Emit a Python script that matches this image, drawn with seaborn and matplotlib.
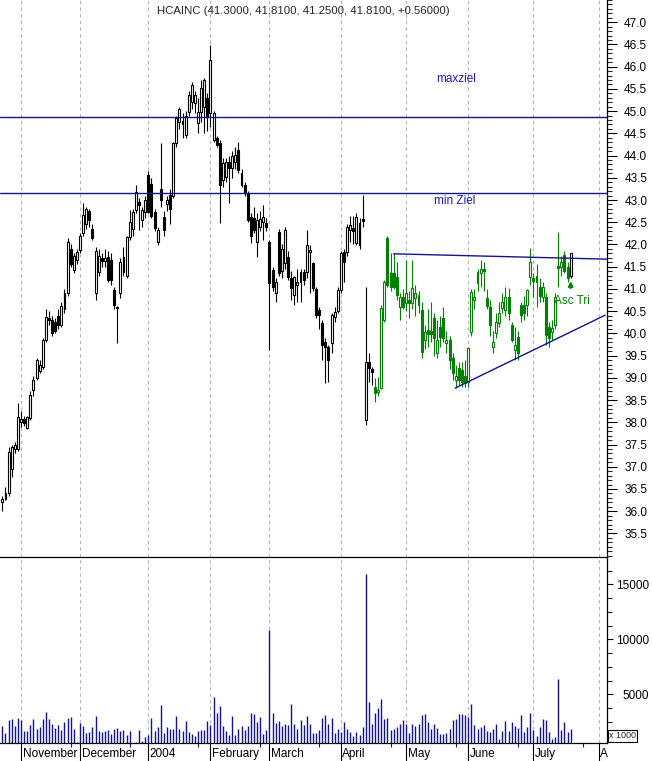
import numpy as np
import pandas as pd
import matplotlib
matplotlib.use('Agg')
import matplotlib.pyplot as plt
from matplotlib.transforms import blended_transform_factory
from matplotlib.ticker import MultipleLocator, FixedLocator
import seaborn as sns

# ---- daily candles (Oct 24 2003 .. Jul 20 2004) ----
opens = [
    36.20, 36.28, 36.42, 36.95, 37.40, 37.40,
    38.00, 38.08, 37.88, 38.10, 38.73, 39.00, 39.15, 39.25, 39.85, 40.35, 40.30, 40.25, 40.40, 40.20,
    40.90, 40.90, 41.90, 41.42, 41.65,
    41.87, 42.26, 42.45, 42.75, 42.35, 40.90, 41.38, 41.70, 41.62, 41.72, 41.65, 40.98, 40.60, 40.90,
    41.72, 41.30, 42.16, 42.35, 42.77, 42.95, 42.55, 42.73,
    43.56, 43.35, 42.73, 42.05, 43.25, 42.62, 42.90, 43.11, 43.10, 44.28, 44.75, 44.78, 44.46, 44.98,
    45.20, 45.18, 44.73, 44.98, 45.10, 45.30,
    44.95, 44.35, 44.40, 44.28, 43.45, 43.52, 43.85, 43.72, 43.85, 44.12, 43.60, 43.34, 43.16, 42.62,
    42.60, 42.05, 42.40, 42.50, 42.48,
    42.05, 41.43, 40.90, 42.28, 41.40, 41.58, 41.72, 41.24, 40.86, 41.10, 41.38, 41.38, 41.38, 41.83,
    41.58, 41.00, 40.52, 40.23, 39.80, 39.69, 39.78, 40.37, 40.50,
    40.98, 41.83, 41.83, 42.33, 42.38, 42.03, 41.99, 42.58, 38.05, 39.35, 39.20, 38.80, 38.68, 38.78,
    40.30, 42.15, 41.36, 41.35, 41.27, 40.60, 40.82,
    40.68, 40.75, 40.68, 40.80, 40.64, 40.52, 39.85, 40.07, 40.05, 40.34, 39.56, 40.14, 40.34, 39.78,
    39.85, 39.45, 38.95, 39.22, 39.18, 39.05,
    38.90, 40.03, 40.75, 41.13, 41.35, 41.45, 40.80, 40.60, 39.69, 40.00, 40.23, 40.57, 40.52, 40.82,
    40.20, 39.63, 39.92, 40.64, 40.64, 40.64, 41.27,
    41.25, 41.30, 41.05, 40.82, 40.82, 40.14, 40.03, 40.19, 41.52, 41.50, 41.76, 41.50, 41.30,
]
highs = [
    36.35, 36.55, 37.45, 37.50, 37.55, 38.43,
    38.25, 38.15, 38.15, 38.70, 39.05, 39.45, 39.40, 39.90, 40.55, 40.50, 40.40, 40.35, 40.55, 40.70,
    41.00, 42.15, 42.00, 41.80, 41.90,
    42.25, 42.93, 42.85, 42.80, 42.45, 41.95, 41.90, 41.80, 41.90, 41.85, 41.80, 41.05, 40.62, 41.70,
    41.95, 42.20, 42.77, 42.80, 43.34, 43.05, 42.85, 43.10,
    43.65, 43.50, 42.80, 42.40, 44.28, 42.75, 43.10, 43.25, 44.30, 44.90, 45.10, 44.95, 45.00, 45.45,
    45.65, 45.45, 45.30, 45.70, 45.75, 45.40,
    46.49, 45.00, 44.45, 44.35, 43.95, 43.95, 44.00, 44.10, 44.20, 44.30, 43.70, 43.40, 43.20, 42.70,
    42.85, 42.70, 42.75, 42.88, 42.60,
    42.10, 41.50, 41.25, 42.35, 42.00, 42.40, 41.85, 41.40, 41.30, 41.45, 41.45, 41.45, 42.33, 41.99,
    41.60, 41.05, 40.60, 40.30, 39.90, 39.75, 40.45, 40.60, 41.05,
    41.85, 41.90, 42.45, 42.65, 42.65, 42.70, 42.60, 43.11, 41.05, 39.55, 39.25, 39.00, 39.02, 40.65,
    41.20, 42.20, 41.80, 41.80, 41.60, 40.90, 41.00,
    41.65, 40.95, 41.65, 41.10, 40.95, 40.70, 40.20, 40.55, 40.70, 40.45, 40.30, 40.40, 40.60, 40.05,
    39.95, 39.55, 39.30, 39.35, 39.36, 39.40,
    39.70, 41.00, 41.00, 41.45, 41.65, 41.60, 41.00, 40.75, 40.05, 40.45, 40.70, 40.90, 41.05, 41.02,
    40.25, 40.15, 40.05, 40.70, 40.85, 41.00, 41.92,
    41.35, 41.55, 41.25, 41.15, 40.90, 40.25, 40.30, 40.90, 42.28, 41.75, 41.85, 41.60, 41.81,
]
lows = [
    36.00, 36.25, 36.35, 36.78, 37.30, 37.35,
    37.90, 37.92, 37.85, 38.05, 38.60, 38.95, 39.10, 39.20, 39.80, 40.20, 39.95, 40.00, 40.10, 40.15,
    40.45, 40.85, 41.50, 41.35, 41.55,
    41.80, 42.20, 42.35, 42.40, 42.10, 40.75, 41.30, 41.50, 41.50, 41.15, 41.10, 40.55, 39.78, 40.80,
    41.30, 41.25, 42.10, 42.20, 42.70, 42.33, 42.40, 42.60,
    42.70, 42.60, 42.30, 41.98, 42.85, 42.20, 42.75, 42.45, 43.05, 44.20, 44.60, 44.40, 44.40, 44.90,
    45.05, 44.95, 44.50, 44.75, 44.50, 44.55,
    44.65, 44.30, 44.20, 42.48, 43.30, 43.40, 42.93, 43.50, 43.70, 43.60, 43.30, 43.10, 42.50, 42.03,
    42.25, 41.72, 42.30, 42.10, 42.30,
    39.63, 40.95, 40.70, 41.30, 41.25, 41.45, 41.20, 40.75, 40.65, 40.70, 40.70, 41.10, 41.25, 40.90,
    40.95, 40.35, 40.10, 39.40, 38.88, 38.90, 39.55, 40.25, 40.45,
    40.90, 41.16, 41.75, 42.05, 42.00, 41.98, 41.90, 42.40, 37.95, 38.90, 38.85, 38.45, 38.60, 38.75,
    40.25, 41.05, 40.95, 41.00, 40.75, 40.30, 40.55,
    40.50, 40.35, 40.55, 40.40, 40.45, 39.45, 39.65, 39.70, 39.80, 39.50, 39.45, 39.70, 39.80, 39.55,
    39.20, 38.95, 38.78, 38.85, 38.80, 38.80,
    38.80, 39.95, 40.55, 40.95, 41.05, 40.95, 40.55, 39.95, 39.55, 39.90, 40.15, 40.45, 40.40, 40.30,
    39.80, 39.40, 39.40, 40.25, 40.30, 40.40, 41.10,
    40.82, 40.60, 40.70, 40.70, 39.74, 39.70, 39.85, 40.10, 41.05, 41.30, 41.35, 41.15, 41.25,
]
closes = [
    36.28, 36.42, 37.33, 37.45, 37.48, 38.12,
    38.08, 37.98, 38.12, 38.61, 38.95, 39.40, 39.30, 39.85, 40.37, 40.30, 40.02, 40.05, 40.20, 40.62,
    40.55, 42.05, 41.55, 41.75, 41.82,
    42.20, 42.66, 42.80, 42.55, 42.15, 41.85, 41.75, 41.62, 41.70, 41.20, 41.20, 40.64, 40.57, 41.60,
    41.38, 42.16, 42.50, 42.73, 43.18, 42.88, 42.77, 43.00,
    42.73, 42.65, 42.37, 42.33, 43.00, 42.33, 43.00, 42.80, 44.28, 44.85, 45.05, 44.70, 44.90, 45.36,
    45.59, 45.36, 44.98, 45.52, 45.70, 44.87,
    46.15, 44.95, 44.24, 43.34, 43.83, 43.86, 43.72, 44.00, 44.02, 43.68, 43.34, 43.16, 42.55, 42.20,
    42.33, 42.55, 42.58, 42.62, 42.40,
    41.13, 41.05, 41.16, 41.36, 41.90, 42.33, 41.27, 41.02, 41.27, 41.15, 41.16, 41.20, 41.99, 41.88,
    41.02, 40.41, 40.41, 39.74, 39.69, 39.40, 40.41, 40.48, 40.98,
    41.80, 41.60, 42.40, 42.44, 42.30, 42.62, 42.48, 42.52, 39.35, 39.22, 39.13, 38.66, 38.72, 40.57,
    41.16, 41.10, 41.04, 41.05, 40.87, 40.82, 40.60,
    40.91, 40.68, 41.02, 40.90, 40.87, 39.58, 40.03, 39.98, 39.98, 39.89, 39.85, 39.92, 39.90, 39.85,
    39.40, 39.11, 39.05, 38.95, 38.90, 38.88,
    39.67, 40.93, 40.82, 41.38, 41.45, 41.40, 40.62, 40.19, 39.80, 40.25, 40.45, 40.70, 40.82, 40.45,
    39.85, 39.74, 39.56, 40.41, 40.45, 40.98, 41.61,
    41.17, 41.15, 40.85, 41.04, 39.97, 39.90, 40.12, 40.82, 41.48, 41.61, 41.40, 41.25, 41.81,
]
# volume in thousands of shares
volume = [
    2120, 1490, 2640, 2730, 2090, 2850,
    2640, 1700, 1640, 2180, 2730, 1820, 2030, 2730, 3360, 2790, 2270, 1970, 2210, 1730,
    2490, 2850, 2940, 1820, 650,
    2360, 2120, 1460, 1610, 2030, 3030, 1700, 1550, 1700, 1730, 1400, 1880, 1910, 1670,
    1730, 1300, 1640, 600, 620, 1730, 760, 1120,
    1270, 2850, 1700, 2030, 4000, 1460, 2030, 1880, 1820, 3030, 1880, 1640, 2550, 1550,
    1400, 1180, 1670, 1730, 1730, 2550,
    2210, 4760, 3330, 3940, 2150, 1640, 1330, 3030, 1300, 1820, 2120, 1730, 2120, 3270,
    3180, 2460, 2940, 1360, 1730,
    10820, 3330, 2360, 2580, 2090, 2270, 2180, 4090, 2270, 1850, 2700, 2240, 3030, 2270,
    1490, 1490, 1730, 2880, 3090, 2270, 2850, 1490, 1880,
    1580, 2460, 1880, 1610, 1180, 1550, 1270, 2030, 15910, 4270, 2270, 3270, 3730, 4550,
    2790, 2880, 1730, 1820, 2030, 2330, 2640,
    2270, 1460, 2270, 2120, 2300, 3120, 3180, 2490, 1820, 2270, 1970, 1400, 1360, 1490,
    1880, 2640, 2790, 3210, 3180, 3090,
    2940, 4090, 2180, 1820, 2000, 2180, 1700, 1580, 1820, 2270, 970, 1670, 2580, 1640,
    2480, 2120, 1910, 3090, 1550, 2030, 3270,
    1730, 1180, 2030, 2730, 2640, 1610, 910, 1090, 6360, 1730, 2460, 1550, 1820,
]

title = 'HCAINC (41.3000, 41.8100, 41.2500, 41.8100, +0.56000)'
month_labels = ['November', 'December', '2004', 'February', 'March',
                'April', 'May', 'June', 'July', 'A']
holidays = ['2003-11-27', '2003-12-25', '2004-01-01', '2004-01-19', '2004-02-16',
            '2004-04-09', '2004-05-31', '2004-06-11', '2004-07-05']
pattern_start, pattern_end = '2004-04-19', '2004-07-19'

max_ziel, min_ziel = 44.86, 43.16
# triangle lines (trading-day index, price)
tri_top_x, tri_top_y = [126, 194.7], [41.79, 41.67]
tri_low_x, tri_low_y = [145.8, 194.1], [38.77, 40.41]

# ---- trading calendar -> x positions ----
days = pd.bdate_range('2003-10-24', '2004-08-31')
days = days[~days.isin(pd.to_datetime(holidays))]
df = pd.DataFrame({'date': days[:len(closes)], 'open': opens, 'high': highs,
                   'low': lows, 'close': closes, 'volume': volume})
df['i'] = np.arange(len(df))
idx = pd.Series(np.arange(len(days)), index=days)
month_start = idx.groupby([days.year, days.month]).first().values[1:]

green = (df['date'] >= pattern_start) & (df['date'] <= pattern_end)
line_col = np.where(green, '#008000', 'black')
face_col = np.where(df['close'] >= df['open'], 'white', line_col)

sns.set_theme(style='white')
plt.rcParams['font.family'] = ['Liberation Sans', 'DejaVu Sans']

fig = plt.figure(figsize=(6.52, 7.61), dpi=100)
ax1 = fig.add_axes([0, 1 - 557 / 761, 607 / 652, 557 / 761])
ax2 = fig.add_axes([0, 1 - 743 / 761, 607 / 652, 186 / 761])
ax2.patch.set_visible(False)

blue = '#14148c'
for ax in (ax1, ax2):
    for m in month_start:
        ax.axvline(m, color='#b4b4b4', lw=0.8, ls=(0, (3, 3)), zorder=0)
    ax.set_xlim(-0.77, 194.7)
    ax.spines['top'].set_visible(False)
    ax.spines['left'].set_visible(False)
    for side in ('right', 'bottom'):
        ax.spines[side].set_color('black')
        ax.spines[side].set_linewidth(0.9)
        ax.spines[side].set_zorder(6)
    ax.yaxis.tick_right()
    ax.set_facecolor('white')

# candles
ax1.vlines(df['i'], df['low'], df['high'], colors=line_col, lw=0.8, zorder=2)
body_low = np.minimum(df['open'], df['close'])
body_h = np.maximum((df['close'] - df['open']).abs(), 0.03)
ax1.bar(df['i'], body_h, bottom=body_low, width=0.62, color=face_col,
        edgecolor=line_col, linewidth=0.8, zorder=3)

# target lines and triangle
ax1.axhline(max_ziel, color=blue, lw=1.0, zorder=4)
ax1.axhline(min_ziel, color=blue, lw=1.0, zorder=4)
sns.lineplot(x=tri_top_x, y=tri_top_y, ax=ax1, color=blue, lw=1.0, zorder=4)
sns.lineplot(x=tri_low_x, y=tri_low_y, ax=ax1, color=blue, lw=1.0, zorder=4)
ax1.text(146, 45.72, 'maxziel', color='#1c1cc0', fontsize=8.5, ha='center', va='center')
ax1.text(145.7, 42.98, 'min Ziel', color='#1c1cc0', fontsize=8.5, ha='center', va='center')
ax1.text(177.6, 40.73, 'Asc Tri', color='#008000', fontsize=8.5, ha='left', va='center')
ax1.annotate('', xy=(183, 41.24), xytext=(183, 40.96),
             arrowprops=dict(arrowstyle='-|>', color='#008000', lw=1.6,
                             mutation_scale=6), zorder=5)

ax1.set_ylim(34.97, 47.5)
ax1.set_yticks(np.arange(35.5, 47.01, 0.5))
ax1.set_yticklabels([f'{v:.1f}' for v in np.arange(35.5, 47.01, 0.5)])
ax1.yaxis.set_minor_locator(FixedLocator(np.arange(35.0, 47.51, 0.1)))
ax1.tick_params(axis='y', which='major', length=7, width=0.8, pad=22,
                labelsize=8.5, colors='black', right=True)
ax1.tick_params(axis='y', which='minor', length=3.5, width=0.8, right=True)
plt.setp(ax1.get_yticklabels(), ha='right')
ax1.set_xticks([])

# volume
ax2.vlines(df['i'], 0, df['volume'], colors=blue, lw=1.0, zorder=2)
ax2.set_ylim(570, 17490)
ax2.set_yticks([5000, 10000, 15000])
ax2.set_yticklabels(['5000', '10000', '15000'])
ax2.yaxis.set_minor_locator(MultipleLocator(1250))
ax2.tick_params(axis='y', which='major', length=4.5, width=0.8, pad=26,
                labelsize=8.5, colors='black', right=True)
ax2.tick_params(axis='y', which='minor', length=3.5, width=0.8, right=True)
plt.setp(ax2.get_yticklabels(), ha='right')

ax2.set_xticks(month_start)
ax2.set_xticks(month_start[:-1] + 16, minor=True)
ax2.tick_params(axis='x', which='major', length=13, width=0.8, direction='out',
                labelbottom=False, bottom=True, colors='black')
ax2.tick_params(axis='x', which='minor', length=3, width=0.8, direction='out',
                bottom=True)
trans = blended_transform_factory(ax2.transData, ax2.transAxes)
for m, lab in zip(month_start, month_labels):
    ax2.text(m + 0.5, -0.06, lab, transform=trans, ha='left', va='center',
             fontsize=8.5, color='black', clip_on=False)

fig.text(609 / 652, 1 - 736 / 761, 'x 1000', fontsize=6.5, ha='left', va='center',
         bbox=dict(facecolor='white', edgecolor='black', boxstyle='square,pad=0.15', lw=0.8))
fig.text(303 / 652, 1 - 11 / 761, title, fontsize=8.2, ha='center', va='center')

fig.savefig('out.png', dpi=100, facecolor='white')
